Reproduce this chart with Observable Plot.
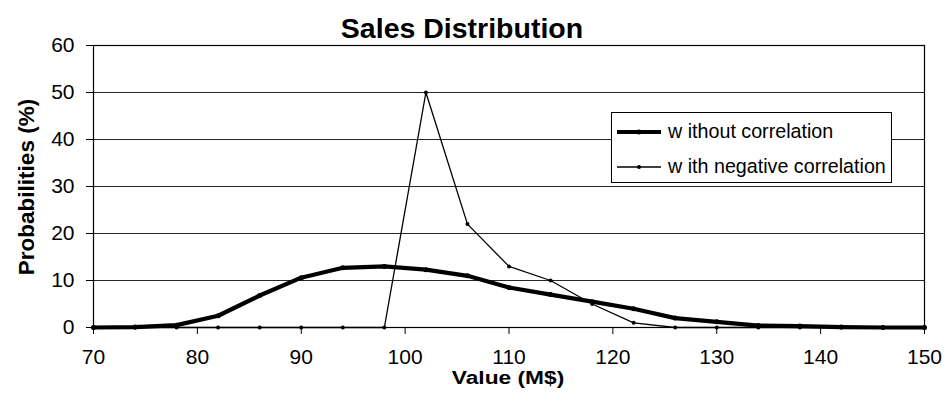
<!DOCTYPE html>
<html>
<head>
<meta charset="utf-8">
<script src="https://cdn.jsdelivr.net/npm/d3@7"></script>
<script src="https://cdn.jsdelivr.net/npm/@observablehq/plot@0.6"></script>
<style>
  html, body { margin: 0; padding: 0; background: #fff; }
  #wrap { position: relative; width: 945px; height: 394px; font-family: "Liberation Sans", Arial, sans-serif; color: #000; }
  .abs { position: absolute; white-space: nowrap; line-height: 1; }
  #title { left: 462px; top: 28px; transform: translate(-50%, -50%); font-size: 28.5px; font-weight: bold; }
  #ylab { left: 27px; top: 187px; transform: translate(-50%, -50%) rotate(-90deg); font-size: 22.5px; font-weight: bold; }
  #xlab { left: 508px; top: 378.5px; transform: translate(-50%, -50%) scaleX(1.3); font-size: 17.5px; font-weight: bold; }
  #legend { left: 611px; top: 112px; width: 279px; height: 69px; border: 1px solid #000; background: #fff; }
  .entry { position: absolute; left: 5px; height: 20px; display: flex; align-items: center; font-size: 19.7px; }
  .entry svg { margin-right: 7px; }
</style>
</head>
<body>
<div id="wrap">
  <div id="chart"></div>
  <div id="title" class="abs">Sales Distribution</div>
  <div id="ylab" class="abs">Probabilities (%)</div>
  <div id="xlab" class="abs">Value (M$)</div>
  <div id="legend" class="abs"></div>
</div>
<script>
// ---- data ----
const xValues = [70, 74, 78, 82, 86, 90, 94, 98, 102, 106, 110, 114, 118, 122, 126, 130, 134, 138, 142, 146, 150];
const withoutCorrelation = [0, 0.1, 0.5, 2.5, 6.8, 10.6, 12.7, 13.0, 12.3, 11.0, 8.5, 7.0, 5.5, 4.0, 2.0, 1.2, 0.4, 0.3, 0.1, 0, 0];
const negativeCorrelation = [0, 0, 0, 0, 0, 0, 0, 0, 50, 22, 13, 10, 5, 1, 0, 0, 0, 0, 0, 0, 0];
const seriesNames = ["w ithout correlation", "w ith negative correlation"];
const xTicks = [70, 80, 90, 100, 110, 120, 130, 140, 150];
const yTicks = [0, 10, 20, 30, 40, 50, 60];

const rowsA = xValues.map((x, i) => ({x, y: withoutCorrelation[i]}));
const rowsB = xValues.map((x, i) => ({x, y: negativeCorrelation[i]}));

const chart = Plot.plot({
  width: 945,
  height: 394,
  marginLeft: 93,
  marginRight: 21,
  marginTop: 45,
  marginBottom: 67,
  style: {fontFamily: "'Liberation Sans', Arial, sans-serif", fontSize: "21px", color: "#000", background: "#fff"},
  x: {domain: [70, 150], ticks: xTicks, tickSize: 7, tickPadding: 15, label: null, tickFormat: d => String(d)},
  y: {domain: [0, 60], ticks: yTicks, tickSize: 7, tickPadding: 12, label: null, tickFormat: d => String(d)},
  marks: [
    Plot.ruleY(yTicks, {stroke: "#000", strokeWidth: 1, strokeOpacity: 0.85}),
    Plot.frame({stroke: "#000", strokeWidth: 1.2}),
    Plot.line(rowsB, {x: "x", y: "y", stroke: "#000", strokeWidth: 1.3}),
    Plot.dot(rowsB, {x: "x", y: "y", fill: "#000", r: 2}),
    Plot.line(rowsA, {x: "x", y: "y", stroke: "#000", strokeWidth: 4.2, strokeLinejoin: "round"}),
    Plot.dot(rowsA, {x: "x", y: "y", fill: "#000", r: 2.5})
  ]
});
document.getElementById("chart").appendChild(chart);

// legend
const legend = document.getElementById("legend");
const styles = [{w: 4.2, r: 2.5}, {w: 1.3, r: 2}];
seriesNames.forEach((name, i) => {
  const e = document.createElement("div");
  e.className = "entry";
  e.style.top = (i === 0 ? 9 : 44) + "px";
  e.innerHTML = `<svg width="44" height="10"><line x1="0" y1="5" x2="44" y2="5" stroke="#000" stroke-width="${styles[i].w}"/><circle cx="22" cy="5" r="${styles[i].r}" fill="#000"/></svg><span>${name}</span>`;
  legend.appendChild(e);
});
</script>
</body>
</html>
